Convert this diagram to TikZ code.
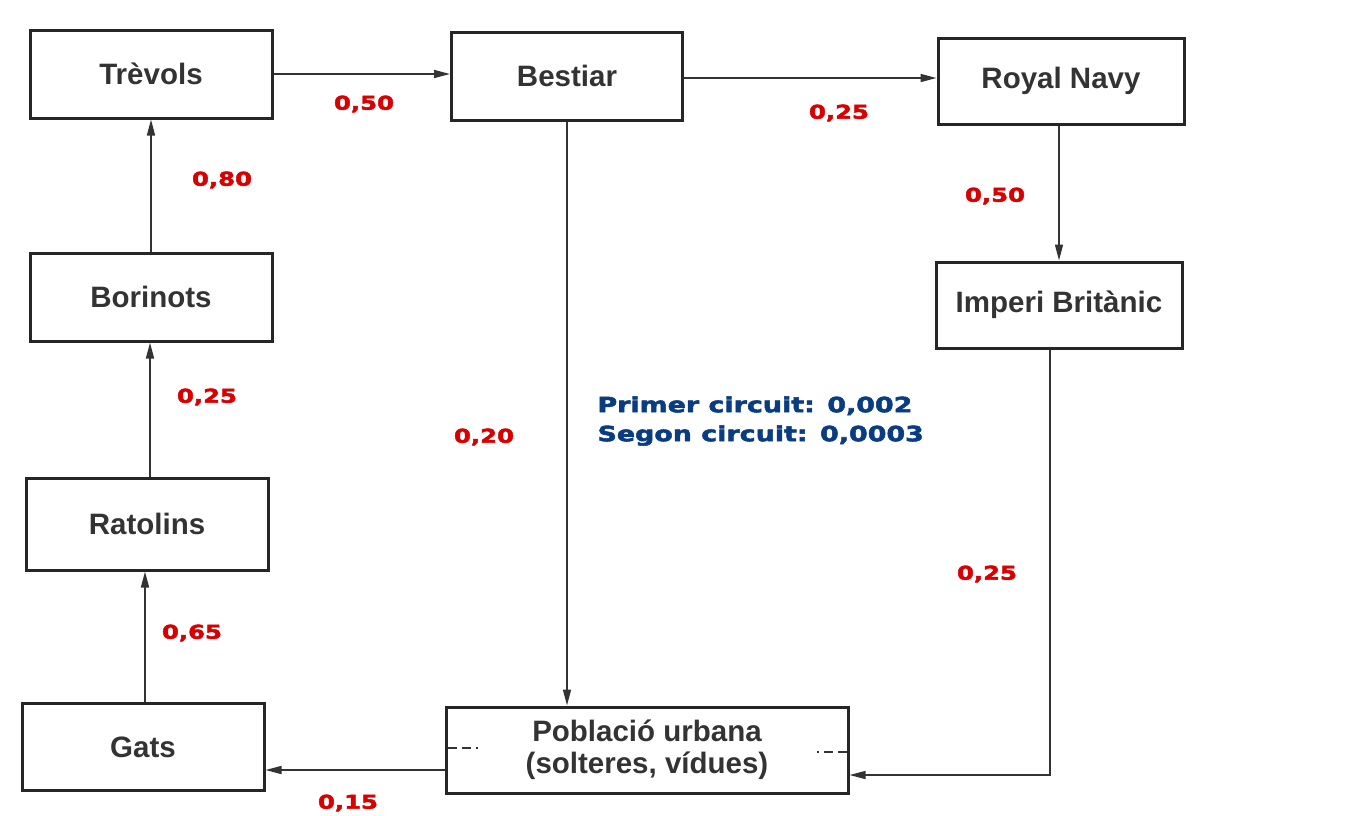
\documentclass[tikz,border=0pt]{standalone}
\usepackage{fontspec}
\setmainfont{Liberation Sans}
\newfontfamily\numfont{DejaVu Sans}[FakeStretch=1.28, BoldFeatures={FakeBold=2.5}]
\usetikzlibrary{arrows.meta, positioning}
\definecolor{boxtext}{HTML}{333333}
\definecolor{weightred}{HTML}{D80000}
\definecolor{circuitblue}{HTML}{0A3C82}

\begin{document}
\begin{tikzpicture}[
    x=1pt, y=-1pt,
    box/.style={rectangle, draw=black!85, line width=3pt, minimum width=242pt, minimum height=88pt, text centered, text=boxtext, font=\fontsize{29.5}{32}\selectfont\bfseries},
    weight/.style={text=weightred, font=\numfont\fontsize{19}{22}\selectfont\bfseries},
    circuit/.style={text=circuitblue, align=left, font=\numfont\fontsize{21}{29}\selectfont\bfseries},
    arrow/.style={line width=1.6pt, draw=black!80, -{Triangle[length=16pt,width=8pt]}},
    tick/.style={line width=1.4pt, draw=black!80, dash pattern=on 9pt off 5pt},
]
    \useasboundingbox (0,0) rectangle (1368,815);

    % left column
    \node (trevols) [box] at (151,74) {Trèvols};
    \node (borinots) [box] at (151,297) {Borinots};
    \node (ratolins) [box, minimum height=92pt] at (147,524) {Ratolins};
    \node (gats) [box, minimum height=87pt] at (143,747) {Gats};

    % top row and right column
    \node (bestiar) [box, minimum width=231pt] at (567,76) {Bestiar};
    \node (navy) [box, minimum width=246pt, minimum height=86pt] at (1061,81) {Royal Navy};
    \node (imperi) [box, minimum width=246pt, minimum height=86pt] at (1059,305) {Imperi Britànic};

    % bottom
    \node (poblacio) [box, minimum width=402pt, minimum height=86pt, align=center] at (647,750) {Població urbana\\(solteres, vídues)};

    \draw [arrow] (trevols.east) -- (trevols.east -| bestiar.west);
    \draw [arrow] ([yshift=-2pt]bestiar.east) -- ([yshift=-2pt]bestiar.east -| navy.west);
    \draw [arrow] ([xshift=-2pt]navy.south) -- ([xshift=-2pt]navy.south |- imperi.north);
    \draw [arrow] ([xshift=-9pt]imperi.south) |- ([yshift=-25pt]poblacio.east);
    \draw [arrow] (bestiar.south) -- (bestiar.south |- poblacio.north);
    \draw [arrow] ([yshift=-20pt]poblacio.west) -- ([yshift=-20pt]poblacio.west -| gats.east);
    \draw [arrow] ([xshift=2pt]gats.north) -- ([xshift=2pt]gats.north |- ratolins.south);
    \draw [arrow] ([xshift=3pt]ratolins.north) -- ([xshift=3pt]ratolins.north |- borinots.south);
    \draw [arrow] (borinots.north) -- (trevols.south);

    % ticks inside the urban box
    \draw [tick] ([xshift=3pt, yshift=2pt]poblacio.west) -- ++(30,0);
    \draw [tick] ([xshift=-3pt, yshift=-2pt]poblacio.east) -- ++(-30,0);

    % weights
    \node (w1) [weight] at (364,104) {0,50};
    \node (w2) [weight] at (839,113) {0,25};
    \node (w3) [weight] at (222,180) {0,80};
    \node (w4) [weight] at (995,196) {0,50};
    \node (w5) [weight] at (207,397) {0,25};
    \node (w6) [weight] at (484,437) {0,20};
    \node (w7) [weight] at (987,574) {0,25};
    \node (w8) [weight] at (192,633) {0,65};
    \node (w9) [weight] at (348,803) {0,15};

    \node (circuits) [circuit, anchor=west] at (594,421) {Primer circuit: 0,002\\Segon circuit: 0,0003};

\end{tikzpicture}
\end{document}
